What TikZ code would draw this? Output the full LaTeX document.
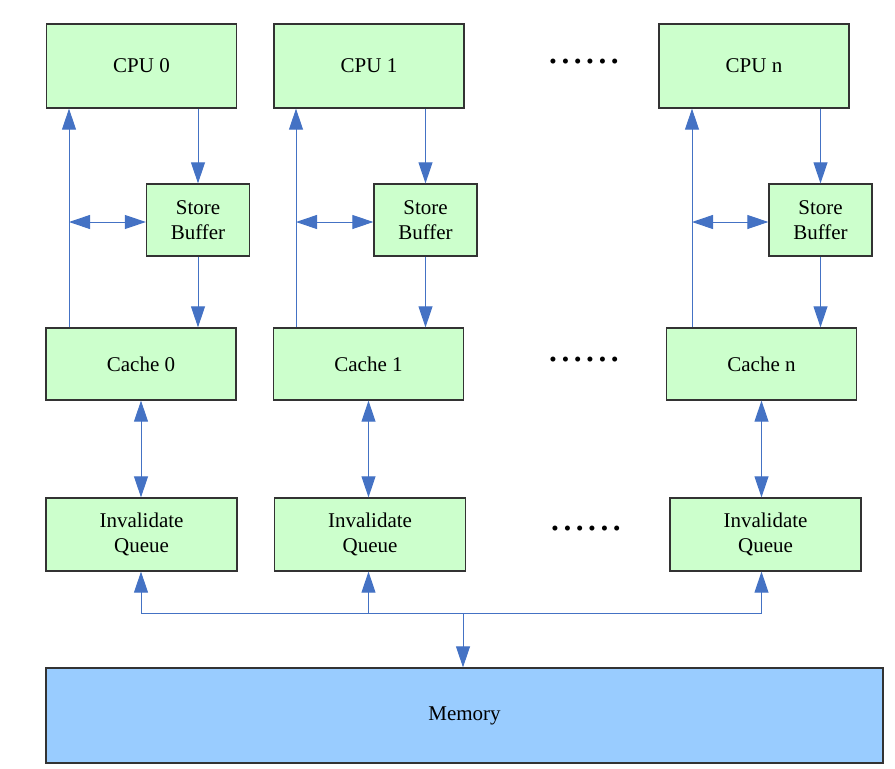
\documentclass[tikz,border=0pt]{standalone}
\usepackage{fontspec}
\setmainfont{Liberation Serif}
\usepackage{xcolor}
\usetikzlibrary{arrows.meta}
\definecolor{boxgreen}{HTML}{CCFFCC}
\definecolor{memblue}{HTML}{99CCFF}
\definecolor{linkblue}{HTML}{4472C4}
\newcommand{\dotrow}{\textbullet\kern5pt\textbullet\kern5pt\textbullet\kern5pt\textbullet\kern5pt\textbullet\kern5pt\textbullet}
\begin{document}
\begin{tikzpicture}[x=1pt,y=-1pt,
  unit/.style={draw=black!80,line width=1.3pt,fill=boxgreen,inner sep=0pt,align=center,
    font=\fontsize{21}{25}\selectfont},
  link/.style={draw=linkblue,line width=1pt,-{Triangle[length=21pt,width=14pt]}},
  twolink/.style={link,{Triangle[length=21pt,width=14pt]}-{Triangle[length=21pt,width=14pt]}}]
\useasboundingbox (0,0) rectangle (895,769);
% processors
\node[unit,minimum width=190pt,minimum height=84pt] (cpu0) at (141.5,66) {CPU 0};
\node[unit,minimum width=190pt,minimum height=84pt] (cpu1) at (369,66) {CPU 1};
\node[unit,minimum width=190pt,minimum height=84pt] (cpun) at (754,66) {CPU n};
% store buffers
\node[unit,minimum width=103pt,minimum height=72pt] (sb0) at (198,220) {Store\\Buffer};
\node[unit,minimum width=103pt,minimum height=72pt] (sb1) at (425.5,220) {Store\\Buffer};
\node[unit,minimum width=103pt,minimum height=72pt] (sbn) at (820.5,220) {Store\\Buffer};
% caches
\node[unit,minimum width=190pt,minimum height=72pt] (cache0) at (141,364) {Cache 0};
\node[unit,minimum width=190pt,minimum height=72pt] (cache1) at (368.5,364) {Cache 1};
\node[unit,minimum width=190pt,minimum height=72pt] (cachen) at (761.5,364) {Cache n};
% invalidate queues
\node[unit,minimum width=191pt,minimum height=73pt] (iq0) at (141.5,534.5) {Invalidate\\Queue};
\node[unit,minimum width=191pt,minimum height=73pt] (iq1) at (370,534.5) {Invalidate\\Queue};
\node[unit,minimum width=191pt,minimum height=73pt] (iqn) at (765.5,534.5) {Invalidate\\Queue};
% memory
\node[unit,fill=memblue,minimum width=837pt,minimum height=95pt] (mem) at (464.5,715.5) {Memory};
% dots
\node[font=\fontsize{21}{25}\selectfont] (dots1) at (584,64) {\dotrow};
\node[font=\fontsize{21}{25}\selectfont] (dots2) at (584,362) {\dotrow};
\node[font=\fontsize{21}{25}\selectfont] (dots3) at (586,531) {\dotrow};
% junctions
\coordinate (up0) at (69,222);
\coordinate (up1) at (296,222);
\coordinate (upn) at (692,222);
\coordinate (bus) at (463,613);
% connectors
\draw[link] (sb0.north |- cpu0.south) -- (sb0.north);
\draw[link] (sb1.north |- cpu1.south) -- (sb1.north);
\draw[link] (sbn.north |- cpun.south) -- (sbn.north);
\draw[link] (sb0.south) -- (sb0.south |- cache0.north);
\draw[link] (sb1.south) -- (sb1.south |- cache1.north);
\draw[link] (sbn.south) -- (sbn.south |- cachen.north);
\draw[link] (up0 |- cache0.north) -- (up0 |- cpu0.south);
\draw[link] (up1 |- cache1.north) -- (up1 |- cpu1.south);
\draw[link] (upn |- cachen.north) -- (upn |- cpun.south);
\draw[twolink] (up0) -- (up0 -| sb0.west);
\draw[twolink] (up1) -- (up1 -| sb1.west);
\draw[twolink] (upn) -- (upn -| sbn.west);
\draw[twolink] (cache0.south) -- (cache0.south |- iq0.north);
\draw[twolink] (cache1.south) -- (cache1.south |- iq1.north);
\draw[twolink] (cachen.south) -- (cachen.south |- iqn.north);
\draw[link] (bus) -| (cache0.south |- iq0.south);
\draw[link] (bus) -| (cache1.south |- iq1.south);
\draw[link] (bus) -| (cachen.south |- iqn.south);
\draw[link] (bus) -- (bus |- mem.north);
\end{tikzpicture}
\end{document}
